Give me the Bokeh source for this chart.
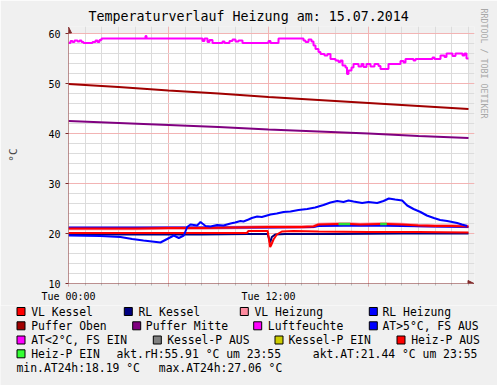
import numpy as np
from bokeh.plotting import figure
from bokeh.layouts import column, row
from bokeh.models import Range1d, FixedTicker, Arrow, NormalHead, Title
from bokeh.core.properties import value
from bokeh.embed import file_html
from bokeh.resources import INLINE

# ---------------- texts ----------------
title_text = "Temperaturverlauf Heizung am: 15.07.2014"
y_label = "°C"
watermark = "RRDTOOL / TOBI OETIKER"
x_major = [0, 6, 12, 18]
x_minor = list(range(0, 25))
x_tick_labels = {0: "Tue 00:00", 6: "", 12: "Tue 12:00", 18: ""}
y_major = [10, 20, 30, 40, 50, 60]
y_minor = list(range(10, 61, 2))
x_start, x_end = 0, 24
y_start, y_end = 10, 60

# ---------------- data (hours of day, value) ----------------
rh_t = [0, 0.12, 0.24, 0.36, 0.54, 0.66, 0.78, 0.9, 1.44, 1.62, 1.74, 1.86, 1.98, 4.62, 4.68,
        8.04, 8.16, 8.34, 8.46, 8.64, 9.24, 9.36, 9.66, 9.84, 10.02, 10.2, 10.44, 12.0, 12.12,
        12.6, 14.1, 14.22, 14.4, 14.58, 14.7, 14.82, 15.0, 15.12, 15.36, 15.54, 15.72, 16.02,
        16.2, 16.32, 16.44, 16.62, 16.71, 16.8, 16.98, 17.1, 17.4, 17.58, 17.7, 17.88, 18.12,
        18.36, 18.6, 18.72, 19.2, 19.92, 20.1, 20.22, 20.7, 20.82, 21.84, 21.96, 22.32, 22.56,
        22.68, 23.04, 23.22, 23.64, 23.76, 23.88, 24.0]
rh_v = [58.1, 58.5, 58.3, 58.6, 58.4, 58.6, 58.3, 58.1, 58.3, 58.6, 58.3, 58.7, 59.0, 59.5, 59.0,
        58.5, 59.0, 58.3, 58.7, 58.1, 58.4, 58.1, 58.5, 58.8, 58.4, 58.6, 58.1, 58.5, 58.1,
        59.0, 58.6, 58.3, 58.8, 58.4, 57.6, 56.9, 56.3, 55.9, 55.6, 55.9, 54.9, 54.6,
        54.3, 54.6, 53.6, 53.2, 51.9, 52.6, 53.2, 53.9, 53.4, 53.9, 53.3, 53.9, 53.4,
        53.9, 53.5, 52.9, 53.9, 54.5, 54.2, 54.9, 54.6, 54.9, 55.2, 54.9, 55.6, 55.3,
        56.0, 55.5, 56.0, 55.6, 56.0, 55.0, 55.0]

puffer_t = [0, 3, 6, 9, 12, 15, 18, 21, 24]
puffer_oben = [49.9, 49.3, 48.6, 48.0, 47.3, 46.7, 46.1, 45.5, 44.9]
puffer_mitte = [42.5, 42.1, 41.7, 41.3, 40.8, 40.4, 40.0, 39.5, 39.1]

vlk_t = [0, 4, 8, 10.7, 10.8, 11.95, 12.1, 12.15, 12.3, 12.5, 12.8, 13.5, 15, 18, 21, 24]
vl_kessel = [20.1, 20.1, 20.1, 20.1, 20.5, 20.5, 17.3, 17.6, 18.8, 19.8, 20.4, 20.5, 20.4, 20.3, 20.3, 20.2]
rlk_t = [0, 4, 8, 10.8, 11.95, 12.1, 12.2, 12.4, 13, 16, 20, 24]
rl_kessel = [19.8, 19.8, 19.8, 19.9, 19.9, 18.2, 19.3, 19.8, 19.9, 19.9, 20.0, 20.0]

vlh_t = [0, 2, 4, 6, 8, 10, 12, 13, 14, 14.7, 15.0, 16.2, 16.9, 17.5, 18.7, 19.1, 20.0, 21.0, 22.0, 23.0, 24.0]
vl_heizung = [21.0, 21.0, 21.0, 21.1, 21.1, 21.2, 21.3, 21.3, 21.3, 21.4, 21.8, 21.9, 21.9, 21.8, 21.9, 21.9, 21.8, 21.6, 21.5, 21.5, 21.4]
heizp_on = [0, 0, 0, 0, 0, 0, 0, 0, 0, 0, 0, 1, 1, 0, 1, 1, 0, 0, 0, 0, 0]
rlh_t = [0, 4, 8, 12, 14.7, 15, 18, 20, 22, 24]
rl_heizung = [21.2, 21.2, 21.2, 21.2, 21.3, 21.5, 21.6, 21.5, 21.4, 21.3]

at_t = [0, 1.92, 3.12, 3.82, 4.5, 5.52, 5.92, 6.32, 6.62, 6.92, 7.12, 7.32, 7.72, 7.92, 8.22,
        8.52, 8.92, 9.3, 9.72, 10.0, 10.32, 10.5, 10.8, 11.0, 11.32, 11.6, 12.12, 12.5, 12.9,
        13.32, 13.8, 14.32, 14.8, 15.3, 15.72, 16.12, 16.5, 16.8, 17.1, 17.62, 18.0, 18.52,
        18.9, 19.22, 19.6, 20.02, 20.32, 20.7, 21.12, 21.5, 21.92, 22.3, 22.72, 23.32, 23.6, 23.92]
at_v = [19.6, 19.5, 19.3, 18.9, 18.6, 18.2, 18.9, 19.6, 19.1, 19.6, 21.3, 21.8, 21.6, 22.3, 21.5,
        21.4, 21.7, 21.6, 22.0, 22.2, 22.5, 22.4, 22.8, 23.1, 23.4, 23.3, 23.8, 24.0, 24.3,
        24.4, 24.7, 24.9, 25.2, 25.7, 26.2, 26.5, 26.3, 26.6, 26.4, 26.1, 26.3, 26.1,
        26.5, 27.0, 26.8, 26.6, 25.6, 24.9, 24.3, 23.6, 23.1, 22.7, 22.5, 22.1, 21.8, 21.5]

legend_rows = [
    [("VL Kessel", "#FF0000"), ("RL Kessel", "#000080"), ("VL Heizung", "#FF8CA0"), ("RL Heizung", "#0000FF")],
    [("Puffer Oben", "#A00000"), ("Puffer Mitte", "#800080"), ("Luftfeuchte", "#FF00FF"), ("AT>5°C, FS AUS", "#0000FF")],
    [("AT<2°C, FS EIN", "#FF00FF"), ("Kessel-P AUS", "#808080"), ("Kessel-P EIN", "#CCCC00"), ("Heiz-P AUS", "#FF0000")],
    [("Heiz-P EIN", "#33FF33")],
]
info_texts = ["akt.rH:55.91 °C um 23:55", "akt.AT:21.44 °C um 23:55",
              "min.AT24h:18.19 °C", "max.AT24h:27.06 °C"]

# ---------------- styling ----------------
MONO = "DejaVu Sans Mono"
BACK = "#F0F0F0"
AXIS = "#802828"
MGRID = "#F2B4B4"
GRID = "#DCDCDC"
PX_X = 400 / 24      # px per hour
PX_Y = 5             # px per degree
X_PAD = 0.36         # room right of the data area for the arrow head (hours)
Y_PAD = 1.4          # room above the data area for the arrow head (degrees)

fw = int(round((x_end - x_start + X_PAD) * PX_X))
fh = int(round((y_end - y_start + Y_PAD) * PX_Y))
p = figure(frame_width=fw, frame_height=fh,
           x_range=Range1d(x_start, x_end + X_PAD), y_range=Range1d(y_start, y_end + Y_PAD),
           output_backend="svg", toolbar_location=None,
           min_border_left=68, min_border_right=497 - 68 - fw, min_border_top=33 - int(round(Y_PAD * PX_Y)),
           min_border_bottom=22)
p.title = Title(text=title_text, align="left", offset=20, text_font=MONO, text_font_size="13.3px",
                text_font_style="normal", text_color="black", standoff=6)
p.add_layout(Title(text=watermark, align="left", offset=-18, text_font=MONO, text_font_size="8.3px",
                   text_font_style="normal", text_color="#A8A8A8", standoff=8), "right")
p.background_fill_color = BACK
p.border_fill_color = BACK
p.outline_line_color = None

# white canvas of the data area, below the grid
p.quad(left=[x_start], right=[x_end], bottom=[y_start], top=[y_end], fill_color="white",
       line_color=None, level="image")

p.xaxis.ticker = FixedTicker(ticks=x_major, minor_ticks=x_minor)
p.xaxis.major_label_overrides = x_tick_labels
p.yaxis.ticker = FixedTicker(ticks=y_major, minor_ticks=y_minor)
for ax in (p.xaxis[0], p.yaxis[0]):
    ax.axis_line_color = None
    ax.major_label_text_font = MONO
    ax.major_label_text_font_size = "10px"
    ax.major_label_text_color = "black"
    ax.minor_tick_in = 0
    ax.major_tick_in = 0
p.xaxis.major_tick_out = 3
p.xaxis.major_tick_line_color = "#E89090"
p.xaxis.minor_tick_out = 2
p.xaxis.minor_tick_line_color = "#BBBBBB"
p.xaxis.major_label_standoff = 4
p.yaxis.major_tick_out = 3
p.yaxis.major_tick_line_color = AXIS
p.yaxis.minor_tick_out = 0
p.yaxis.major_label_standoff = 5
p.yaxis.axis_label = y_label
p.yaxis.axis_label_text_font = MONO
p.yaxis.axis_label_text_font_size = "11px"
p.yaxis.axis_label_text_font_style = "normal"
p.yaxis.axis_label_standoff = 25

p.xgrid.grid_line_color = MGRID
p.xgrid.minor_grid_line_color = GRID
p.ygrid.grid_line_color = MGRID
p.ygrid.minor_grid_line_color = GRID

# series
LW = 2
p.line(vlh_t, vl_heizung, line_color="#FF8CA0", line_width=3.5)
p.line(rlh_t, rl_heizung, line_color="#0000FF", line_width=LW)
vlh_arr = np.array(vl_heizung, dtype=float)
on_arr = np.array(heizp_on)
p.line(vlh_t, vl_heizung, line_color="#FF0000", line_width=LW)
p.line(vlh_t, np.where(on_arr == 1, vlh_arr, np.nan), line_color="#33DD33", line_width=LW + 0.5)
p.line(rlk_t, rl_kessel, line_color="#000080", line_width=LW)
p.line(vlk_t, vl_kessel, line_color="#FF0000", line_width=LW)
p.line(puffer_t, puffer_oben, line_color="#A00000", line_width=LW)
p.line(puffer_t, puffer_mitte, line_color="#800080", line_width=LW)
p.step(rh_t, rh_v, mode="after", line_color="#FF00FF", line_width=LW)
p.line(at_t, at_v, line_color="#0000FF", line_width=LW)

# axis lines with arrow heads
p.add_layout(Arrow(x_start=x_start, y_start=y_start, x_end=x_start, y_end=y_end + Y_PAD - 0.1,
                   line_color=AXIS, line_width=1,
                   end=NormalHead(size=6, fill_color=AXIS, line_color=AXIS)))
p.add_layout(Arrow(x_start=x_start, y_start=y_start, x_end=x_end + X_PAD - 0.03, y_end=y_start,
                   line_color=AXIS, line_width=1,
                   end=NormalHead(size=6, fill_color=AXIS, line_color=AXIS)))

# ---------------- legend panel ----------------
p2 = figure(frame_width=497, frame_height=80, x_range=Range1d(0, 497), y_range=Range1d(385, 305),
            output_backend="svg", toolbar_location=None, x_axis_type=None, y_axis_type=None,
            min_border=0, min_border_left=0, min_border_right=0, min_border_top=0, min_border_bottom=0)
p2.background_fill_color = BACK
p2.border_fill_color = BACK
p2.outline_line_color = None
p2.grid.visible = False

row_y = [311, 325.3, 339.5, 353.3, 367.5]
sq_x = [[16, 123.3, 239.3, 368.3], [16, 131.7, 252.7, 368.3], [16, 152.3, 274, 396], [16]]
txt_x = [[30.7, 138, 254, 382], [30.7, 145.3, 267.3, 382], [30.7, 166.7, 288, 410.7], [30.7]]
sx, sy, sc, tx_, ty_, tt = [], [], [], [], [], []
for r, items in enumerate(legend_rows):
    for c, (lab, col) in enumerate(items):
        sx.append(sq_x[r][c] + 4.5)
        sy.append(row_y[r])
        sc.append(col)
        tx_.append(txt_x[r][c])
        ty_.append(row_y[r])
        tt.append(lab)
info_pos = [(116, row_y[3]), (312.3, row_y[3]), (16, row_y[4]), (158.3, row_y[4])]
for (ix, iy), t in zip(info_pos, info_texts):
    tx_.append(ix)
    ty_.append(iy)
    tt.append(t)

p2.rect(sx, sy, width=8, height=8, fill_color=sc, line_color="black", line_width=1)
p2.text(tx_, ty_, text=tt, text_baseline="middle", text_align="left",
        text_font=value(MONO), text_font_size="11.4px", text_color="black")

layout = column(p, row(p2), spacing=0)
open("out.html", "w").write(file_html(layout, INLINE))
